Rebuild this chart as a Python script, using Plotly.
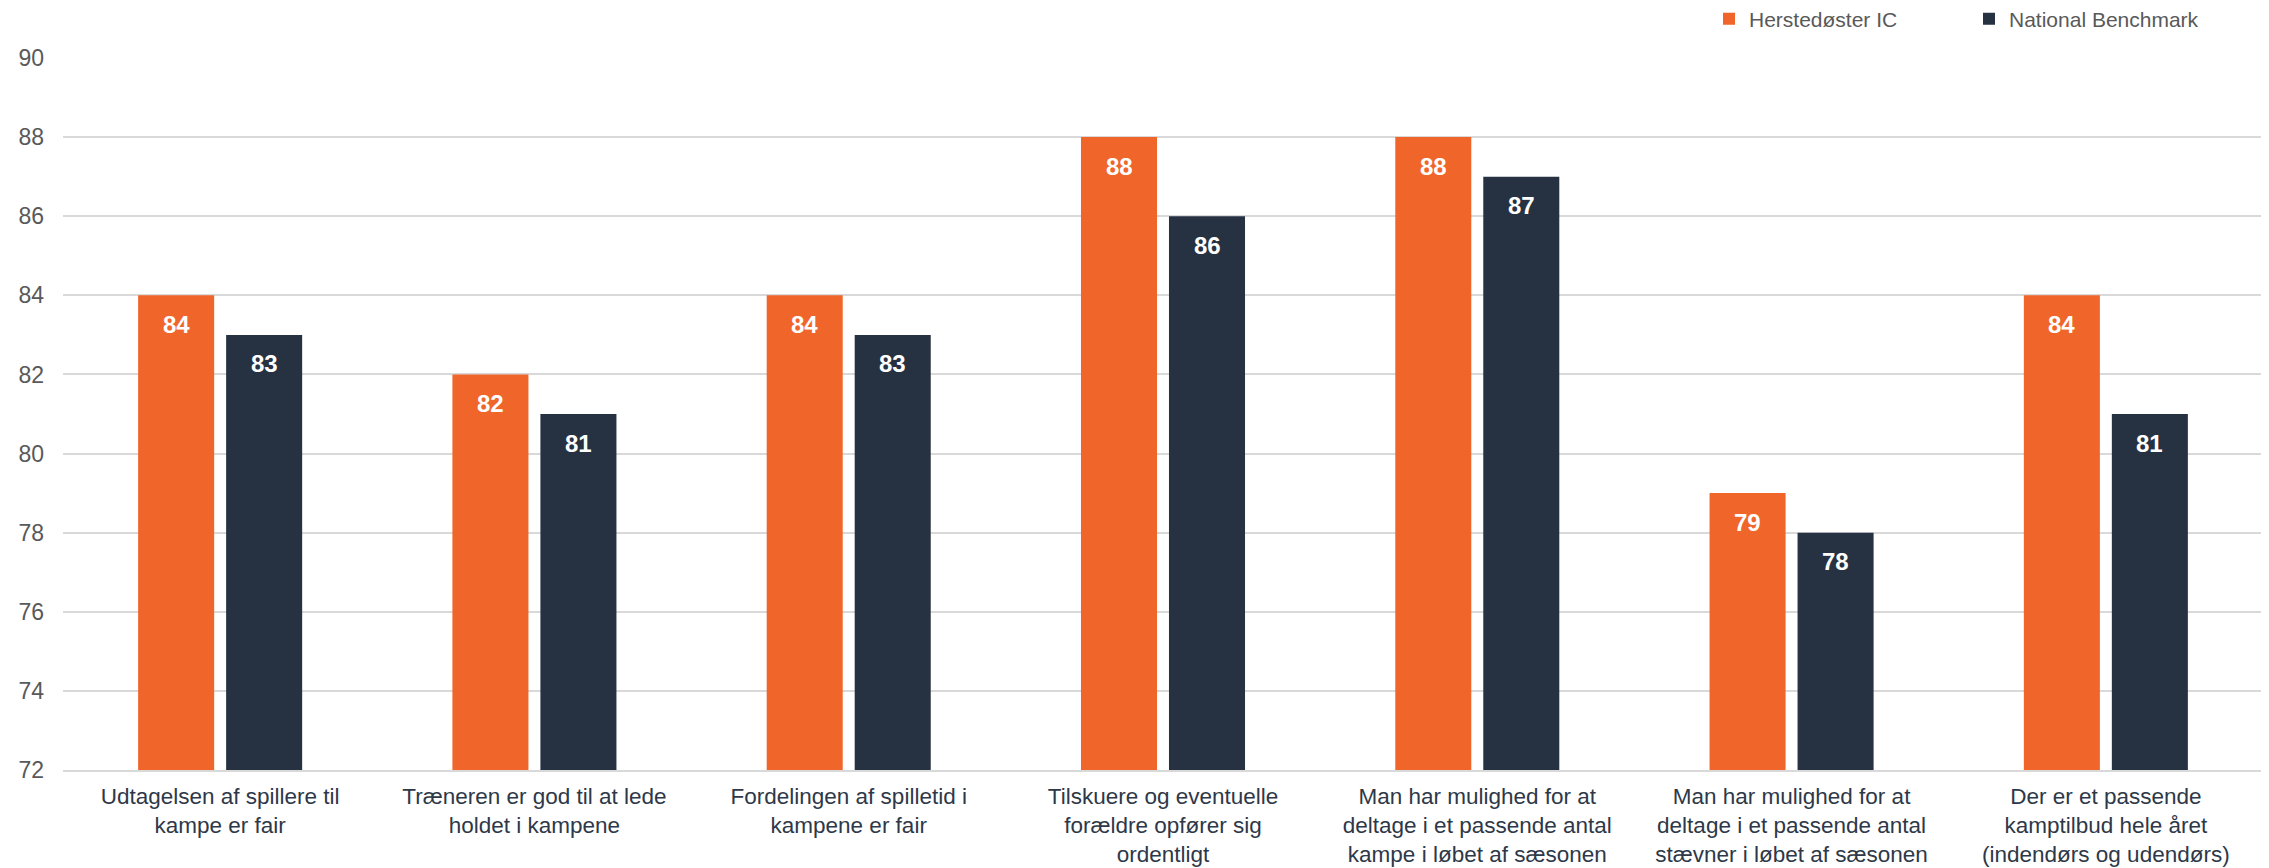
import plotly.graph_objects as go

categories = [
    "Udtagelsen af spillere til<br>kampe er fair",
    "Træneren er god til at lede<br>holdet i kampene",
    "Fordelingen af spilletid i<br>kampene er fair",
    "Tilskuere og eventuelle<br>forældre opfører sig<br>ordentligt",
    "Man har mulighed for at<br>deltage i et passende antal<br>kampe i løbet af sæsonen",
    "Man har mulighed for at<br>deltage i et passende antal<br>stævner i løbet af sæsonen",
    "Der er et passende<br>kamptilbud hele året<br>(indendørs og udendørs)",
]
herstedoster = [84, 82, 84, 88, 88, 79, 84]
national = [83, 81, 83, 86, 87, 78, 81]
series_names = ["Herstedøster IC", "National Benchmark"]
y_ticks = [72, 74, 76, 78, 80, 82, 84, 86, 88, 90]

# page body has an 8px default margin, so the figure is slightly smaller
W, H = 2261, 860
ML, MR, MT, MB = 55, 6, 50, 98
BARGAP = 0.44
BARGROUPGAP = 0.136
colors = ["#F0652A", "#263142"]
FONT = "Liberation Sans, Arial, sans-serif"

fig = go.Figure()
for name, vals, col in zip(series_names, [herstedoster, national], colors):
    fig.add_trace(go.Bar(
        name=name, x=categories, y=vals, marker_color=col,
        marker_line_width=0, hoverinfo="skip",
    ))

# value labels positioned inside bars near top
plot_w = W - ML - MR
cat_w = plot_w / len(categories)
slot = cat_w * (1 - BARGAP) / 2
for i, vals in enumerate([herstedoster, national]):
    shift = (i - 0.5) * slot
    for c, v in zip(categories, vals):
        fig.add_annotation(
            x=c, y=v, xref="x", yref="y", text=f"<b>{v}</b>",
            showarrow=False, xshift=shift, yshift=-29,
            yanchor="middle", xanchor="center",
            font=dict(family=FONT, size=24, color="white"),
        )

fig.update_layout(
    width=W, height=H,
    margin=dict(l=ML, r=MR, t=MT, b=MB, autoexpand=False),
    paper_bgcolor="white", plot_bgcolor="white",
    barmode="group", bargap=BARGAP, bargroupgap=BARGROUPGAP,
    font=dict(family=FONT, color="#595959"),
    showlegend=True,
    legend=dict(
        orientation="h", x=(1701 - ML) / (W - ML - MR), xanchor="left",
        y=1 + (MT - 11) / (H - MT - MB), yanchor="middle",
        font=dict(family=FONT, size=21, color="#595959"),
        entrywidth=215, entrywidthmode="pixels", itemwidth=30,
        bgcolor="rgba(0,0,0,0)", traceorder="normal",
    ),
    xaxis=dict(
        type="category",
        showgrid=False, showline=True, linecolor="#D9D9D9", linewidth=1.5,
        tickfont=dict(family=FONT, size=22.5, color="#2E3848"), ticks="",
        ticklabelstandoff=5, automargin=False, fixedrange=True,
    ),
    yaxis=dict(
        range=[72, 90], tickvals=y_ticks, showgrid=True, gridcolor="#D9D9D9", gridwidth=1.5,
        zeroline=False, showline=False, ticks="", automargin=False,
        tickfont=dict(family=FONT, size=23, color="#595959"),
        ticklabelstandoff=18,
    ),
)

fig.write_html("out.html")
